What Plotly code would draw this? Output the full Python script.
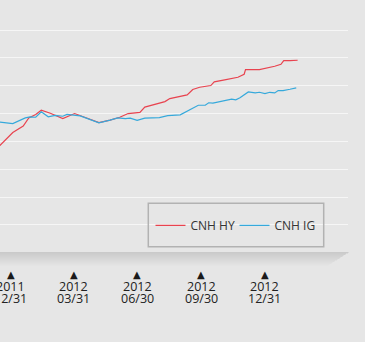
import plotly.graph_objects as go

# CNH high-yield and investment-grade bond index levels
hy_dates = [
    "2011-12-08", "2012-01-03", "2012-01-18", "2012-01-26", "2012-02-05",
    "2012-02-13", "2012-02-26", "2012-03-15", "2012-04-01", "2012-05-06",
    "2012-05-22", "2012-06-05", "2012-06-17", "2012-07-04", "2012-07-11",
    "2012-08-01", "2012-08-09", "2012-08-16", "2012-08-25", "2012-09-10",
    "2012-09-18", "2012-09-28", "2012-10-14", "2012-10-19", "2012-11-03",
    "2012-11-15", "2012-11-22", "2012-12-01", "2012-12-03", "2012-12-23",
    "2012-12-31", "2013-01-14", "2013-01-23", "2013-01-27", "2013-02-05",
    "2013-02-16",
]
hy_values = [
    93.36, 96.59, 97.76, 99.23, 99.82,
    100.59, 100.05, 99.10, 100.00, 98.38,
    98.83, 99.34, 100.00, 100.22, 101.17,
    101.92, 102.15, 102.69, 102.91, 103.36,
    104.31, 104.72, 105.03, 105.69, 106.05,
    106.28, 106.51, 107.05, 107.90, 107.90,
    108.08, 108.49, 108.85, 109.51, 109.51,
    109.57,
]

ig_dates = [
    "2011-12-08", "2012-01-03", "2012-01-21", "2012-01-28", "2012-02-05",
    "2012-02-13", "2012-02-23", "2012-03-04", "2012-03-15", "2012-03-21",
    "2012-04-09", "2012-05-06", "2012-05-22", "2012-06-02", "2012-06-13",
    "2012-06-20", "2012-06-30", "2012-07-11", "2012-08-01", "2012-08-13",
    "2012-08-31", "2012-09-18", "2012-09-26", "2012-10-06", "2012-10-11",
    "2012-10-17", "2012-10-30", "2012-11-06", "2012-11-13", "2012-11-19",
    "2012-11-25", "2012-12-07", "2012-12-17", "2012-12-23", "2012-12-31",
    "2013-01-07", "2013-01-14", "2013-01-19", "2013-01-26", "2013-02-05",
    "2013-02-14",
]
ig_values = [
    98.58, 98.21, 99.23, 99.41, 99.34,
    100.31, 99.41, 99.68, 99.52, 99.86,
    99.59, 98.35, 98.83, 99.23, 99.10,
    99.19, 98.80, 99.19, 99.28, 99.64,
    99.77, 100.90, 101.49, 101.49, 101.94,
    101.88, 102.21, 102.42, 102.60, 102.46,
    102.84, 103.89, 103.71, 103.82, 103.59,
    103.82, 103.71, 104.13, 104.13, 104.36,
    104.61,
]

series_names = ["CNH HY", "CNH IG"]
series_colors = ["#e8434f", "#36a9db"]

tick_dates = ["2011-12-31", "2012-03-31", "2012-06-30", "2012-09-30", "2012-12-31"]
tick_years = ["2011", "2012", "2012", "2012", "2012"]
tick_days = ["12/31", "03/31", "06/30", "09/30", "12/31"]

# page geometry
W, H = 365, 342
ML, MR, MT, MB = 0, 17, 10, 90
PW = W - ML - MR
PH = H - MT - MB
BG = "#e6e6e6"
FONT = "Open Sans"


def fx(px):
    return (px - ML) / PW


def fy(py):
    return (H - MB - py) / PH


fig = go.Figure()
for name, xs, ys, col in zip(series_names, [hy_dates, ig_dates],
                             [hy_values, ig_values], series_colors):
    fig.add_trace(go.Scatter(
        x=xs, y=ys, name=name, mode="lines",
        line=dict(color=col, width=1.2),
    ))

shapes = []
# soft floor strip under the plot, fading downward, cut diagonally at the right
band_top, band_rows, band_right, band_slant = 252, 14, 350, 22
for k in range(band_rows):
    yb = band_top + k + 1
    xr = band_right - (yb - band_top) * band_slant / band_rows
    shapes.append(dict(
        type="path", xref="paper", yref="paper", layer="above",
        path=(f"M {fx(-2)},{fy(band_top)} L {fx(band_right)},{fy(band_top)} "
              f"L {fx(xr)},{fy(yb)} L {fx(-2)},{fy(yb)} Z"),
        fillcolor="rgba(0,0,0,0.0078)", line=dict(width=0),
    ))
# legend frame
shapes.append(dict(
    type="rect", xref="paper", yref="paper", layer="above",
    x0=fx(148.3), x1=fx(323.7), y0=fy(203.3), y1=fy(246.7),
    line=dict(color="#b2b2b2", width=1.5), fillcolor="rgba(0,0,0,0)",
))

annotations = []
for d, yr, md in zip(tick_dates, tick_years, tick_days):
    annotations.append(dict(
        x=d, xref="x", y=fy(274), yref="paper", text="▲", showarrow=False,
        font=dict(family="DejaVu Sans", size=10, color="#1a1a1a"),
        xanchor="center", yanchor="middle",
    ))
    annotations.append(dict(
        x=d, xref="x", y=fy(286), yref="paper", text=yr, showarrow=False,
        font=dict(family=FONT, size=12.5, color="#222222"),
        xanchor="center", yanchor="middle",
    ))
    annotations.append(dict(
        x=d, xref="x", y=fy(298.3), yref="paper", text=md, showarrow=False,
        font=dict(family=FONT, size=12.5, color="#222222"),
        xanchor="center", yanchor="middle",
    ))

fig.update_layout(
    width=W, height=H,
    margin=dict(l=ML, r=MR, t=MT, b=MB, pad=0, autoexpand=False),
    paper_bgcolor=BG, plot_bgcolor=BG,
    font=dict(family=FONT, size=12, color="#333333"),
    showlegend=True,
    legend=dict(
        orientation="h", x=fx(150.5), y=fy(225.3),
        xanchor="left", yanchor="middle",
        bgcolor="rgba(0,0,0,0)", borderwidth=0,
        font=dict(family=FONT, size=12, color="#333333"),
        entrywidth=39, entrywidthmode="pixels",
    ),
    xaxis=dict(
        type="date", range=["2011-12-15 14:00", "2013-04-29 12:00"],
        showgrid=False, showticklabels=False, ticks="", zeroline=False,
        showline=False, fixedrange=True,
    ),
    yaxis=dict(
        range=[75.15, 118.59], tick0=0, dtick=5,
        showgrid=True, gridcolor="#f6f6f6", gridwidth=1.2,
        showticklabels=False, ticks="", zeroline=False, showline=False,
        fixedrange=True,
    ),
    shapes=shapes,
    annotations=annotations,
)

fig.write_html("out.html")
